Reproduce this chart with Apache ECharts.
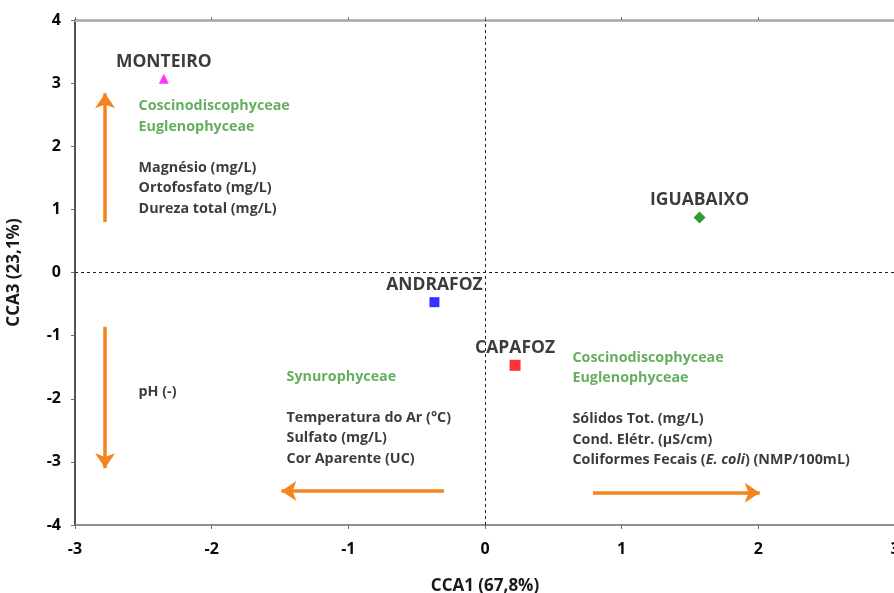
<!DOCTYPE html>
<html><head><meta charset="utf-8">
<script src="https://cdn.jsdelivr.net/npm/echarts@6/dist/echarts.min.js"></script>
<style>html,body{margin:0;padding:0;background:#fff}#c{width:894px;height:593px}</style>
</head><body><div id="c"></div>
<script>
// Sites (scores on CCA1 / CCA3)
const sites = ['MONTEIRO', 'ANDRAFOZ', 'CAPAFOZ', 'IGUABAIXO'];
const cca1 = [-2.35, -0.37, 0.22, 1.57];
const cca3 = [3.07, -0.47, -1.47, 0.87];
const siteSymbols = ['triangle', 'rect', 'rect', 'diamond'];
const siteColors = ['#ff00ff', '#0000ff', '#ff0000', '#008000'];
const siteSizes = [10, 10, 11, 12];

// Axis ranges / ticks
const xTicks = [-3, -2, -1, 0, 1, 2, 3];
const yTicks = [-4, -3, -2, -1, 0, 1, 2, 3, 4];
const xTitle = 'CCA1 (67,8%)';
const yTitle = 'CCA3 (23,1%)';

// Direction arrows [start, end] in axis units
const arrowStart = [[-2.78, 0.80], [-2.78, -0.86], [-0.30, -3.46], [0.79, -3.49]];
const arrowEnd = [[-2.78, 2.84], [-2.78, -3.10], [-1.49, -3.46], [2.01, -3.49]];

// Annotation blocks (anchor = top-left, axis units)
const noteAnchorX = [-2.535, -2.535, -1.452, 0.64];
const noteAnchorY = [2.80, -1.73, -1.49, -1.19];
const noteGreen = [
  ['Coscinodiscophyceae', 'Euglenophyceae'],
  [],
  ['Synurophyceae'],
  ['Coscinodiscophyceae', 'Euglenophyceae']
];
const noteBlack = [
  ['Magnésio (mg/L)', 'Ortofosfato (mg/L)', 'Dureza total (mg/L)'],
  ['pH (-)'],
  ['Temperatura do Ar (°C)', 'Sulfato (mg/L)', 'Cor Aparente (UC)'],
  ['Sólidos Tot. (mg/L)', 'Cond. Elétr. (µS/cm)', 'Coliformes Fecais (|E. coli|) (NMP/100mL)']
];

const FONT = '"Open Sans"';
const ORANGE = '#f5841f';
const GREEN = '#3f9a35';
const INK = '#0a0a0a';

function fmtBlack(s) {
  const parts = s.split('|');
  return parts.map((p, i) => p ? (i % 2 ? '{i|' + p + '}' : '{b|' + p + '}') : '').join('');
}
function noteText(i) {
  const lines = [];
  noteGreen[i].forEach(g => lines.push('{g|' + g + '}'));
  if (noteGreen[i].length) lines.push('{b| }');
  noteBlack[i].forEach(b => lines.push(fmtBlack(b)));
  return lines.join('\n');
}

const LH = 20.5;
const NFS = 14.3;
const noteRich = {
  g: {color: GREEN, fontFamily: FONT, fontWeight: 'bold', fontSize: NFS, lineHeight: LH},
  b: {color: INK, fontFamily: FONT, fontWeight: 'bold', fontSize: NFS, lineHeight: LH},
  i: {color: INK, fontFamily: FONT, fontWeight: 'bold', fontStyle: 'italic', fontSize: NFS, lineHeight: LH}
};

const chart = echarts.init(document.getElementById('c'), null, {renderer: 'canvas'});

const siteData = sites.map((s, i) => ({
  name: s,
  value: [cca1[i], cca3[i]],
  symbol: siteSymbols[i],
  symbolSize: siteSizes[i],
  itemStyle: {color: siteColors[i]}
}));

const noteData = noteAnchorX.map((x, i) => ({
  value: [x, noteAnchorY[i]],
  label: {formatter: noteText(i)}
}));

const axisLabelStyle = {color: INK, fontFamily: FONT, fontWeight: 'bold', fontSize: 16};

chart.setOption({
  animation: false,
  backgroundColor: '#fff',
  grid: {left: 75, right: -1, top: 20, bottom: 68, containLabel: false, outerBoundsMode: 'none'},
  xAxis: [{
    type: 'value', min: xTicks[0], max: xTicks[xTicks.length - 1], interval: 1,
    position: 'bottom',
    axisLine: {show: true, onZero: false, lineStyle: {color: '#6e6e6e', width: 1.5}},
    axisTick: {show: true, length: 4, lineStyle: {color: '#6e6e6e'}},
    axisLabel: Object.assign({margin: 16}, axisLabelStyle),
    splitLine: {show: false},
    name: xTitle, nameLocation: 'middle', nameGap: 53,
    nameTextStyle: {color: '#1a1a1a', fontFamily: FONT, fontWeight: 'bold', fontSize: 17}
  }, {
    type: 'value', min: xTicks[0], max: xTicks[xTicks.length - 1], interval: 1,
    position: 'top',
    axisLine: {show: true, onZero: false, lineStyle: {color: '#a6a6a6', width: 2.5}},
    axisTick: {show: true, length: 3, lineStyle: {color: '#6e6e6e'}},
    axisLabel: {show: false},
    splitLine: {show: false}
  }],
  yAxis: [{
    type: 'value', min: yTicks[0], max: yTicks[yTicks.length - 1], interval: 1,
    position: 'left',
    axisLine: {show: true, onZero: false, lineStyle: {color: '#1a1a1a', width: 1.5}},
    axisTick: {show: true, length: 4, lineStyle: {color: '#6e6e6e'}},
    axisLabel: Object.assign({margin: 14}, axisLabelStyle),
    splitLine: {show: false},
    name: yTitle, nameLocation: 'middle', nameGap: 52,
    nameTextStyle: {color: '#1a1a1a', fontFamily: FONT, fontWeight: 'bold', fontSize: 17}
  }, {
    type: 'value', min: yTicks[0], max: yTicks[yTicks.length - 1], interval: 1,
    position: 'right',
    axisLine: {show: true, onZero: false, lineStyle: {color: '#a6a6a6', width: 2}},
    axisTick: {show: false}, axisLabel: {show: false}, splitLine: {show: false}
  }],
  series: [
    {
      type: 'scatter', xAxisIndex: 0, yAxisIndex: 0, silent: true,
      data: siteData,
      label: {
        show: true, position: 'top', distance: 3,
        formatter: p => p.name,
        color: INK, fontFamily: FONT, fontWeight: 'bold', fontSize: 17.5
      },
      markLine: {
        silent: true, symbol: ['none', 'none'], animation: false,
        label: {show: false},
        lineStyle: {color: '#222', type: [3, 3], width: 1},
        data: [{xAxis: 0}, {yAxis: 0}]
      },
      z: 5
    },
    {
      type: 'lines', coordinateSystem: 'cartesian2d', xAxisIndex: 0, yAxisIndex: 0,
      silent: true,
      symbol: ['none', 'arrow'], symbolSize: 15,
      lineStyle: {color: ORANGE, width: 3.5, opacity: 1},
      data: arrowStart.map((s, i) => ({coords: [s, arrowEnd[i]]})),
      z: 3
    },
    {
      type: 'scatter', xAxisIndex: 0, yAxisIndex: 0, silent: true,
      symbolSize: 0,
      data: noteData,
      label: {
        show: true, position: [0, 0], align: 'left', verticalAlign: 'top',
        rich: noteRich
      },
      z: 4
    }
  ]
});
</script>
</body></html>
